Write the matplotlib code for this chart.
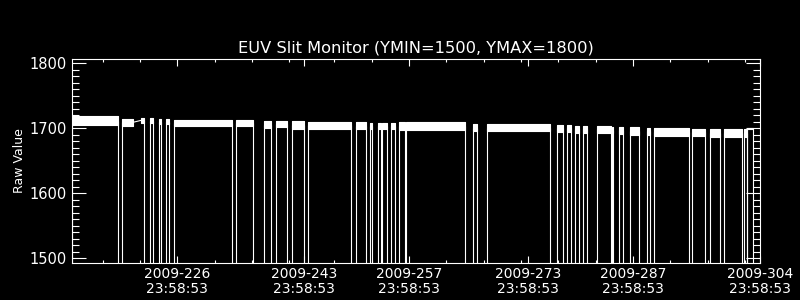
import matplotlib
matplotlib.use('Agg')
import matplotlib.pyplot as plt

# time axis in day-of-year 2009 (ticks fall at 23:58:53 of each day)
major_days = [226, 243, 257, 273, 287, 304]
major_labels = [f"2009-{d}\n23:58:53" for d in major_days]
minor_days = [216, 221, 231, 236, 241, 247, 252, 262, 267, 272, 277, 282, 292, 297, 302]

# stretches of valid data: start, end, low and high of the noisy band
seg_start = [211.90, 218.66, 221.14, 222.28, 223.51, 224.49, 225.49, 233.86, 237.61, 239.21,
             241.31, 243.54, 249.86, 251.80, 252.80, 253.40, 254.57, 255.61, 256.55, 265.55,
             267.50, 276.79, 278.17, 279.24, 280.27, 282.22, 284.19, 285.09, 286.60, 288.81,
             289.86, 294.94, 297.31, 299.19, 301.80, 302.27]
seg_end = [218.10, 220.07, 221.54, 222.75, 223.86, 224.89, 233.26, 236.13, 238.54, 240.73,
           242.96, 249.28, 251.26, 252.06, 253.27, 254.01, 255.10, 256.42, 264.51, 266.08,
           275.89, 277.67, 278.70, 279.71, 280.81, 284.02, 284.37, 285.63, 287.85, 289.28,
           294.43, 296.64, 298.65, 301.56, 302.20, 303.11]
seg_low = [1705, 1704, 1708, 1708, 1706, 1706, 1704, 1703, 1700, 1702,
           1699, 1699, 1698, 1698, 1698, 1698, 1698, 1697, 1697, 1696,
           1695, 1694, 1694, 1693, 1693, 1692, 1692, 1691, 1690, 1690,
           1688, 1688, 1687, 1687, 1687, 1699]
seg_high = [1718, 1714, 1716, 1715, 1714, 1714, 1713, 1713, 1711, 1711,
            1711, 1710, 1709, 1708, 1708, 1708, 1708, 1709, 1709, 1706,
            1707, 1705, 1705, 1704, 1704, 1704, 1702, 1702, 1702, 1701,
            1700, 1699, 1699, 1699, 1699, 1701]
# gaps that were interpolated instead of dropping to zero (index of segment before the gap)
joined_after = [1]

plt.rcParams['font.family'] = 'DejaVu Sans'
fig = plt.figure(figsize=(8, 3), dpi=100, facecolor='black')
ax = fig.add_axes([0.09, 0.1233, 0.86, 0.68])
ax.set_facecolor('black')

for i in range(len(seg_start)):
    s, e = seg_start[i], seg_end[i]
    lo, hi = seg_low[i], seg_high[i]
    mid = (lo + hi) / 2
    ax.fill_between([s, e], [lo, lo], [hi, hi], color='white', linewidth=0.8, edgecolor='white')
    if i - 1 not in joined_after:
        ax.vlines(s, 1400, mid, color='white', linewidth=0.8)
    if i in joined_after:
        nxt = (seg_low[i + 1] + seg_high[i + 1]) / 2
        ax.plot([e, seg_start[i + 1]], [mid, nxt], color='white', linewidth=0.8)
    else:
        ax.vlines(e, 1400, mid, color='white', linewidth=0.8)

ax.set_xlim(211.9, 304.0)
ax.set_ylim(1492.3, 1806.5)

ax.set_xticks(major_days)
ax.set_xticklabels(major_labels, linespacing=1.05)
ax.set_xticks(minor_days, minor=True)
ax.set_yticks([1500, 1600, 1700, 1800])
ax.set_yticks(range(1500, 1810, 10), minor=True)

ax.tick_params(axis='x', which='major', direction='in', length=5, width=0.8,
               top=True, bottom=True, colors='white', labelsize=10, pad=3)
ax.tick_params(axis='x', which='minor', direction='in', length=2.5, width=0.8,
               top=True, bottom=True, colors='white')
ax.tick_params(axis='y', which='major', direction='in', length=10, width=0.8,
               left=True, right=True, colors='white', labelsize=10.5, pad=4)
ax.tick_params(axis='y', which='minor', direction='in', length=5, width=0.8,
               left=True, right=True, colors='white')

for sp in ax.spines.values():
    sp.set_color('white')
    sp.set_linewidth(0.8)

ax.set_ylabel('Raw Value', color='white', fontsize=9, labelpad=2)
ax.set_title('EUV Slit Monitor (YMIN=1500, YMAX=1800)', color='white', fontsize=11.7, pad=5)

fig.savefig('out.png', dpi=100, facecolor='black')
